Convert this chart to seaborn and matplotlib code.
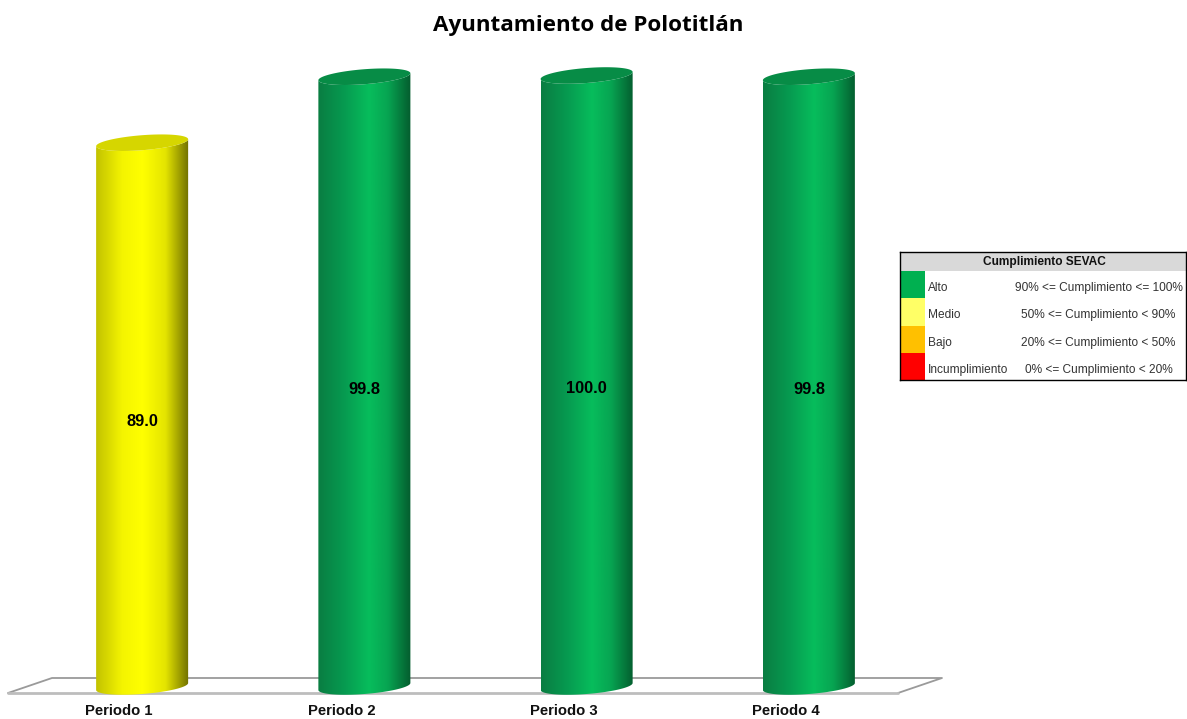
"""
Ayuntamiento de Polotitlán - cylinder bars per period + SEVAC legend box
Output: out.png
"""

import numpy as np
import pandas as pd
import matplotlib
matplotlib.use("Agg")
import matplotlib.pyplot as plt
from matplotlib.colors import LinearSegmentedColormap
from matplotlib.lines import Line2D
from matplotlib.path import Path
from matplotlib.patches import Polygon, Rectangle
from matplotlib.transforms import ScaledTranslation
import seaborn as sns

# ── Data ───────────────────────────────────────────────────────────────────────
periods = ["Periodo 1", "Periodo 2", "Periodo 3", "Periodo 4"]
values = [89.0, 99.8, 100.0, 99.8]
levels = ["Medio", "Alto", "Alto", "Alto"]

legend_title = "Cumplimiento SEVAC"
legend_names = ["Alto", "Medio", "Bajo", "Incumplimiento"]
legend_ranges = [
    "90% <= Cumplimiento <= 100%",
    "50% <= Cumplimiento < 90%",
    "20% <= Cumplimiento < 50%",
    "0% <= Cumplimiento < 20%",
]
legend_colors = ["#00B050", "#FFFF66", "#FFC000", "#FF0000"]

# shading across a cylinder, left edge to right edge
shades = {
    "Alto": [(0, "#0a7d42"), (0.28, "#069a50"), (0.55, "#07bd5c"), (0.75, "#07a552"), (1, "#045c2e")],
    "Medio": [(0, "#c2c200"), (0.28, "#f4f400"), (0.5, "#ffff00"), (0.75, "#e4e400"), (1, "#707000")],
}
bar_colors = {"Alto": "#07bd5c", "Medio": "#ffff00"}
cap_colors = {"Alto": "#078c46", "Medio": "#d6d600"}

# ── Setup ──────────────────────────────────────────────────────────────────────
W, H = 1187, 719
PX_PER_UNIT = 6.11
ZERO_Y = 686.5  # pixel row of value 0


def fx(x):
    return x / W


def fy(y):
    return 1 - y / H


sns.set_theme(style="white")
plt.rcParams["font.family"] = ["Liberation Sans", "DejaVu Sans"]

fig = plt.figure(figsize=(W / 100, H / 100), dpi=100, facecolor="white")
ax = fig.add_axes([fx(31), fy(700), 889 / W, 680 / H])

df = pd.DataFrame({"periodo": periods, "valor": values, "nivel": levels})
sns.barplot(
    data=df, x="periodo", y="valor", hue="periodo",
    palette=[bar_colors[n] for n in levels],
    width=0.414, legend=False, ax=ax, saturation=1,
)
ax.set_xlim(-0.5, 3.5)
ax.set_ylim((ZERO_Y - 700) / PX_PER_UNIT, (ZERO_Y - 20) / PX_PER_UNIT)
ax.set_xlabel("")
ax.set_ylabel("")
ax.set_yticks([])
ax.tick_params(axis="x", length=0, pad=3)
# the axis labels sit left of the cylinders in this chart
label_shift = ScaledTranslation(-23 / 100, 0, fig.dpi_scale_trans)
for lab in ax.get_xticklabels():
    lab.set_fontsize(10.7)
    lab.set_fontweight("bold")
    lab.set_color("#111111")
    lab.set_transform(lab.get_transform() + label_shift)
sns.despine(ax=ax, left=True, bottom=True, top=True, right=True)
ax.patch.set_alpha(0)

# ── Floor ──────────────────────────────────────────────────────────────────────
back = Line2D([fx(8), fx(52), fx(942), fx(898)], [fy(693), fy(678), fy(678), fy(693)],
              transform=fig.transFigure, color="#9a9a9a", lw=1.3, clip_on=False, zorder=1)
front = Line2D([fx(8), fx(898)], [fy(693), fy(693)],
               transform=fig.transFigure, color="#bdbdbd", lw=2.0, clip_on=False, zorder=1)
ax.add_line(back)
ax.add_line(front)

# ── Cylinders, built on the bars seaborn placed ────────────────────────────────
CAP_B = 7.5 / PX_PER_UNIT
CAP_TILT = 3.5 / PX_PER_UNIT
theta = np.linspace(np.pi, 2 * np.pi, 60)
ramp = np.linspace(0, 1, 256).reshape(1, -1)

for container, level, val in zip(ax.containers, levels, values):
    bar = container[0]
    x0, w = bar.get_x(), bar.get_width()
    cx, half = x0 + w / 2, w / 2
    top = bar.get_height()
    bar.set_visible(False)

    arc_x = cx + half * np.cos(theta)
    low_y = CAP_B * np.sin(theta) + CAP_TILT * np.cos(theta)
    verts = np.vstack([
        np.column_stack([arc_x, low_y]),
        np.column_stack([arc_x[::-1], top + low_y[::-1]]),
        [[arc_x[0], low_y[0]]],
    ])
    codes = [Path.MOVETO] + [Path.LINETO] * (len(verts) - 2) + [Path.CLOSEPOLY]
    body = Path(verts, codes)

    cmap = LinearSegmentedColormap.from_list(level, shades[level])
    im = ax.imshow(ramp, cmap=cmap, aspect="auto", zorder=3, interpolation="bilinear",
                   extent=(x0, x0 + w, -2 * CAP_B, top + 2 * CAP_B))
    im.set_clip_path(body, transform=ax.transData)

    t = np.linspace(0, 2 * np.pi, 120)
    cap = np.column_stack([
        cx + half * np.cos(t),
        top + CAP_B * np.sin(t) + CAP_TILT * np.cos(t),
    ])
    ax.add_patch(Polygon(cap, closed=True, facecolor=cap_colors[level],
                         edgecolor="none", zorder=4, clip_on=False))

    ax.text(cx, val * 0.487, f"{val:.1f}", ha="center", va="center",
            fontsize=11.8, fontweight="bold", color="black", zorder=5)

ax.set_xlim(-0.5, 3.5)
ax.set_ylim((ZERO_Y - 700) / PX_PER_UNIT, (ZERO_Y - 20) / PX_PER_UNIT)

# ── Title ──────────────────────────────────────────────────────────────────────
fig.text(fx(588), fy(25), "Ayuntamiento de Polotitlán", ha="center", va="center",
         fontsize=16.1, fontweight="bold", color="black",
         family=["Open Sans", "DejaVu Sans"])

# ── Legend box ─────────────────────────────────────────────────────────────────
narrow = ["Liberation Sans Narrow", "Liberation Sans"]
box_l, box_r, box_t, box_b = 899.5, 1186, 252, 380
lg = fig.add_axes([fx(box_l), fy(box_b), (box_r - box_l) / W, (box_b - box_t) / H])
lg.set_xlim(box_l, box_r)
lg.set_ylim(box_b, box_t)
lg.set_xticks([])
lg.set_yticks([])
for s in lg.spines.values():
    s.set_color("black")
    s.set_linewidth(1.0)

head_b = 271
lg.add_patch(Rectangle((box_l, box_t), box_r - box_l, head_b - box_t, color="#d9d9d9", lw=0))
lg.text(1044, 261.5, legend_title, ha="center", va="center", fontsize=8.6,
        fontweight="bold", family=narrow, color="#111111")

row_h = (box_b - head_b) / len(legend_names)
for i, (name, rng, col) in enumerate(zip(legend_names, legend_ranges, legend_colors)):
    y0 = head_b + i * row_h
    lg.add_patch(Rectangle((box_l, y0), 25.5, row_h, color=col, lw=0))
    lg.text(928, y0 + row_h / 2 + 3.5, name, ha="left", va="center", fontsize=8.6,
            family=narrow, color="#333333")
    lg.text(1098.5, y0 + row_h / 2 + 3.5, rng, ha="center", va="center", fontsize=8.6,
            family=narrow, color="#333333")

fig.savefig("out.png", dpi=100, facecolor="white")
